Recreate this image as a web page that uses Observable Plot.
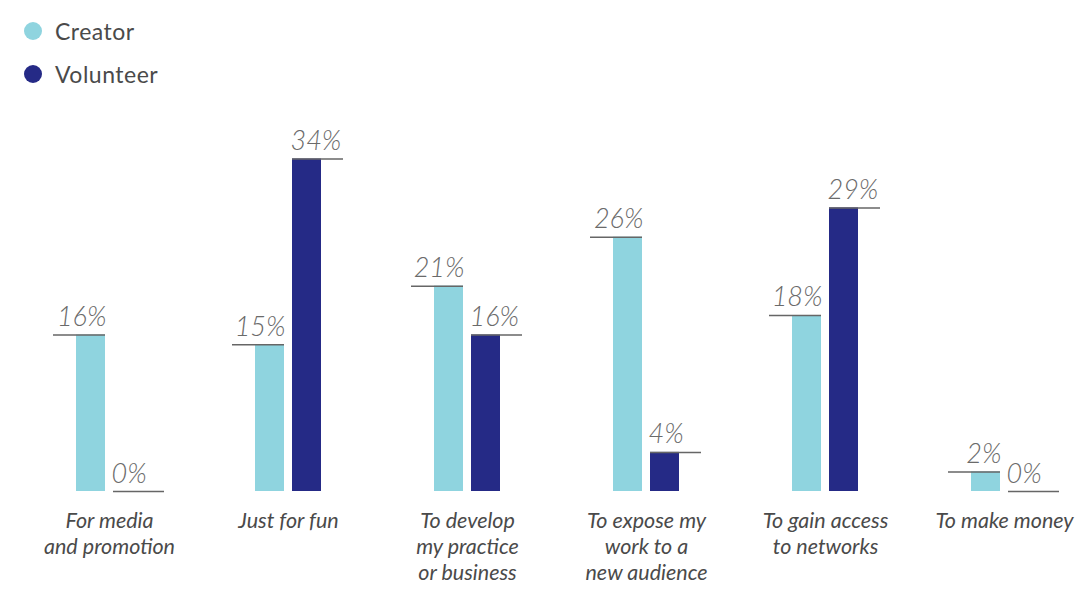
<!DOCTYPE html>
<html>
<head>
<meta charset="utf-8">
<script src="https://cdn.jsdelivr.net/npm/d3@7"></script>
<script src="https://cdn.jsdelivr.net/npm/@observablehq/plot@0.6"></script>
<style>
  html, body { margin: 0; padding: 0; background: #ffffff; }
  #wrap { width: 1077px; height: 609px; position: relative; overflow: hidden; }
  #legend { position: relative; width: 1077px; height: 100px; font-family: Lato, "Open Sans", sans-serif; }
  .item { position: absolute; left: 24px; display: flex; align-items: center; height: 20px; }
  .sw { width: 18px; height: 18px; border-radius: 50%; margin-right: 13px; }
  .lab { font-size: 23px; color: #4a4a4a; letter-spacing: 0.5px; }
  #chart svg { display: block; }
</style>
</head>
<body>
<div id="wrap">
  <div id="legend"></div>
  <div id="chart"></div>
</div>
<script>
const categories = [
  "For media\nand promotion",
  "Just for fun",
  "To develop\nmy practice\nor business",
  "To expose my\nwork to a\nnew audience",
  "To gain access\nto networks",
  "To make money"
];
const series = ["Creator", "Volunteer"];
const creatorValues = [16, 15, 21, 26, 18, 2];
const volunteerValues = [0, 34, 16, 4, 29, 0];
const colors = ["#8fd4df", "#252a86"];

const data = [];
categories.forEach((c, i) => {
  data.push({category: c, series: "Creator", value: creatorValues[i]});
  data.push({category: c, series: "Volunteer", value: volunteerValues[i]});
});
const creator = data.filter(d => d.series === "Creator");
const volunteer = data.filter(d => d.series === "Volunteer");

// Legend (HTML, above the SVG)
const legend = document.getElementById("legend");
series.forEach((s, i) => {
  const it = document.createElement("div");
  it.className = "item";
  it.style.top = (21 + i * 43) + "px";
  it.innerHTML = `<span class="sw" style="background:${colors[i]}"></span><span class="lab">${s}</span>`;
  legend.appendChild(it);
});

const valueFont = {fontSize: 27, fontStyle: "italic", fontWeight: 300, fill: "#6a6a6a",
  fontFamily: "Lato, 'Open Sans', sans-serif", style: "letter-spacing: 1px"};

const chart = Plot.plot({
  width: 1077,
  height: 509,
  marginTop: 0,
  marginBottom: 0,
  marginLeft: 0,
  marginRight: 0,
  x: {domain: categories, range: [76, 1037], paddingInner: 0.6313, paddingOuter: 0, axis: null},
  y: {domain: [0, 34], range: [391, 58.5], axis: null},
  marks: [
    Plot.barY(creator, {x: "category", y: "value", fill: colors[0], insetRight: 37, insetLeft: 0}),
    Plot.barY(volunteer, {x: "category", y: "value", fill: colors[1], insetLeft: 37, insetRight: 0}),
    Plot.tickY(creator, {x: "category", y: "value", stroke: "#666", strokeWidth: 1.5, insetLeft: -23, insetRight: 37}),
    Plot.tickY(volunteer, {x: "category", y: "value", stroke: "#666", strokeWidth: 1.5, insetLeft: 37, insetRight: -22}),
    Plot.text(creator, {x: "category", y: "value", text: d => d.value + "%", textAnchor: "end", lineAnchor: "bottom", dx: -3, dy: -9, ...valueFont}),
    Plot.text(volunteer, {x: "category", y: "value", text: d => d.value + "%", textAnchor: "start", lineAnchor: "bottom", dx: 2, dy: -9, ...valueFont}),
    Plot.text(categories, {x: d => d, y: () => 0, text: d => d, lineAnchor: "top", dy: 18, lineHeight: 1.21,
      fontSize: 21.5, fontStyle: "italic", fill: "#4a4a4a", fontFamily: "Lato, 'Open Sans', sans-serif"})
  ]
});
document.getElementById("chart").appendChild(chart);
</script>
</body>
</html>
